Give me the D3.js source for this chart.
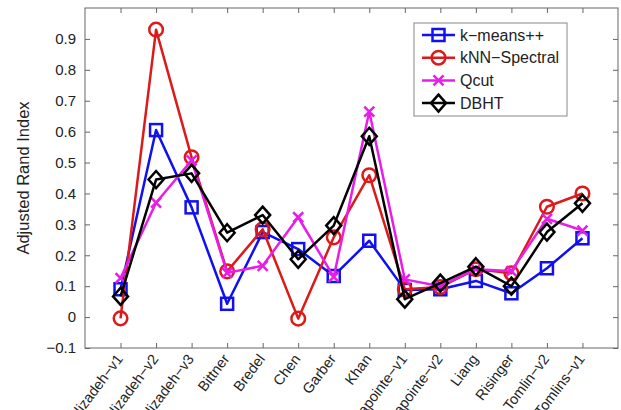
<!DOCTYPE html>
<html>
<head>
<meta charset="utf-8">
<script src="https://cdn.jsdelivr.net/npm/d3@7"></script>
<style>
  body { margin: 0; background: #fff; }
  svg text { font-family: "Liberation Sans", Arial, sans-serif; fill: #222; }
</style>
</head>
<body>
<div id="chart"></div>
<script>
// Data
const datasets = ['Alizadeh−v1', 'Alizadeh−v2', 'Alizadeh−v3', 'Bittner', 'Bredel', 'Chen', 'Garber',
  'Khan', 'Lapointe−v1', 'Lapointe−v2', 'Liang', 'Risinger', 'Tomlin−v2', 'Tomlins−v1']

const kmeans = [0.09, 0.605, 0.355, 0.043, 0.275, 0.22, 0.133, 0.247, 0.088, 0.09, 0.117, 0.077, 0.158, 0.255]
const knnSpectral = [-0.004, 0.93, 0.517, 0.148, 0.284, -0.005, 0.258, 0.459, 0.09, 0.097, 0.155, 0.142, 0.357, 0.4]
const qcut = [0.126, 0.37, 0.507, 0.143, 0.166, 0.323, 0.13, 0.665, 0.122, 0.1, 0.155, 0.149, 0.318, 0.28]
const dbht = [0.067, 0.445, 0.465, 0.273, 0.33, 0.187, 0.296, 0.585, 0.058, 0.11, 0.163, 0.1, 0.275, 0.368]

const yTicks = [-0.1, 0, 0.1, 0.2, 0.3, 0.4, 0.5, 0.6, 0.7, 0.8, 0.9]

const series = [
  { name: 'k−means++', values: kmeans, color: '#1010f0', marker: 'square' },
  { name: 'kNN−Spectral', values: knnSpectral, color: '#dc1a1a', marker: 'circle' },
  { name: 'Qcut', values: qcut, color: '#e81ee8', marker: 'cross' },
  { name: 'DBHT', values: dbht, color: '#000000', marker: 'diamond' },
]

// Dimensions
const width = 621
const height = 410
const margin = { left: 85, right: 3, top: 8, bottom: 62 }
const ctrWidth = width - margin.left - margin.right
const ctrHeight = height - margin.top - margin.bottom

const svg = d3.select('#chart').append('svg')
  .attr('width', width)
  .attr('height', height)

const ctr = svg.append('g')
  .attr('transform', `translate(${margin.left}, ${margin.top})`)

// Scales
const xScale = d3.scaleLinear().domain([0, datasets.length + 1]).range([0, ctrWidth])
const yScale = d3.scaleLinear().domain([-0.1, 1.0]).range([ctrHeight, 0])

const fmt = d => d === 0 ? '0' : (d < 0 ? '−' + d3.format('.1f')(-d) : d3.format('.1f')(d))

// Axes (ticks inside, mirrored)
const tickIdx = datasets.map((d, i) => i + 1)

const yAxis = d3.axisLeft(yScale).tickValues(yTicks).tickSize(-5).tickPadding(9).tickFormat(fmt)
const yAxisG = ctr.append('g').call(yAxis)
yAxisG.selectAll('text').style('font-size', '15px')

const yRight = ctr.append('g').attr('transform', `translate(${ctrWidth},0)`)
  .call(d3.axisRight(yScale).tickValues(yTicks).tickSize(-5).tickFormat(''))

const xAxisG = ctr.append('g').attr('transform', `translate(0,${ctrHeight})`)
  .call(d3.axisBottom(xScale).tickValues(tickIdx).tickSize(-5).tickFormat(''))

ctr.append('g')
  .call(d3.axisTop(xScale).tickValues(tickIdx).tickSize(-5).tickFormat(''))

ctr.selectAll('.domain').remove()
ctr.selectAll('.tick line').attr('stroke', '#666')

ctr.append('rect')
  .attr('width', ctrWidth)
  .attr('height', ctrHeight)
  .attr('fill', 'none')
  .attr('stroke', '#666')
  .attr('stroke-width', 1)

// Rotated category labels
ctr.append('g').selectAll('text')
  .data(datasets)
  .join('text')
  .attr('transform', (d, i) => `translate(${xScale(i + 1) + 3},${ctrHeight + 11}) rotate(-53)`)
  .attr('text-anchor', 'end')
  .style('font-size', '14.5px')
  .text(d => d)

// Y label
svg.append('text')
  .attr('transform', `translate(29,${margin.top + ctrHeight / 2}) rotate(-90)`)
  .attr('text-anchor', 'middle')
  .style('font-size', '16.5px')
  .text('Adjusted Rand Index')

// Markers
function drawMarker(g, type, color) {
  if (type === 'square') {
    g.append('rect').attr('x', -6).attr('y', -6).attr('width', 12).attr('height', 12)
      .attr('fill', 'none').attr('stroke', color).attr('stroke-width', 2.5)
  } else if (type === 'circle') {
    g.append('circle').attr('r', 6.8)
      .attr('fill', 'none').attr('stroke', color).attr('stroke-width', 2.5)
  } else if (type === 'cross') {
    g.append('path').attr('d', 'M-5,-5L5,5M-5,5L5,-5')
      .attr('fill', 'none').attr('stroke', color).attr('stroke-width', 2.5)
  } else if (type === 'diamond') {
    g.append('path').attr('d', 'M0,-8.5L7.5,0L0,8.5L-7.5,0Z')
      .attr('fill', 'none').attr('stroke', color).attr('stroke-width', 2.5)
  }
}

const lineGenerator = d3.line()
  .x((d, i) => xScale(i + 1))
  .y(d => yScale(d))

series.forEach(s => {
  const g = ctr.append('g')
  g.append('path')
    .datum(s.values)
    .attr('d', lineGenerator)
    .attr('fill', 'none')
    .attr('stroke', s.color)
    .attr('stroke-width', 2.5)
    .attr('stroke-linejoin', 'round')

  s.values.forEach((v, i) => {
    const m = g.append('g').attr('transform', `translate(${xScale(i + 1)},${yScale(v)})`)
    drawMarker(m, s.marker, s.color)
  })
})

// Legend
const legend = svg.append('g').attr('transform', 'translate(414,23)')
legend.append('rect')
  .attr('width', 153)
  .attr('height', 93)
  .attr('fill', '#fff')
  .attr('stroke', '#888')
  .attr('stroke-width', 1)

series.forEach((s, i) => {
  const row = legend.append('g').attr('transform', `translate(0,${12 + i * 22.7})`)
  row.append('line')
    .attr('x1', 8).attr('x2', 41).attr('y1', 0).attr('y2', 0)
    .attr('stroke', s.color).attr('stroke-width', 2.5)
  drawMarker(row.append('g').attr('transform', 'translate(24.5,0)'), s.marker, s.color)
  row.append('text')
    .attr('x', 46)
    .attr('y', 0)
    .attr('dy', '0.35em')
    .style('font-size', '16px')
    .text(s.name)
})
</script>
</body>
</html>
